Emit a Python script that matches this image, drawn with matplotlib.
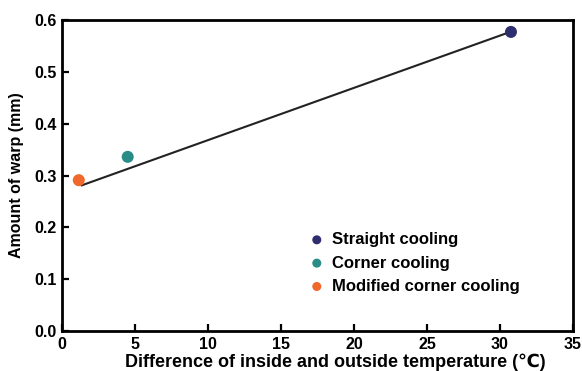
import matplotlib
matplotlib.use("Agg")
import matplotlib.pyplot as plt

plt.rcParams['font.family'] = ['Liberation Sans', 'DejaVu Sans']
plt.rcParams['font.weight'] = 'bold'

# DATA
labels = ['Straight cooling', 'Corner cooling', 'Modified corner cooling']
temp_diff = [30.75, 4.5, 1.15]
warp = [0.577, 0.336, 0.291]
colors = ['#2e2d6e', '#2a8c87', '#f0682c']
fit_x = [1.35, 30.6]
fit_y = [0.281, 0.576]

fig = plt.figure(figsize=(5.82, 3.71), dpi=100)
ax = fig.add_axes([62/582, 40/371, 511/582, 311/371])

ax.plot(fit_x, fit_y, color='#222222', lw=1.5, zorder=2)
for x, y, c, lab in zip(temp_diff, warp, colors, labels):
    ax.scatter([x], [y], s=75, color=c, zorder=3, label=lab, edgecolors='none')

ax.set_xlim(0, 35)
ax.set_ylim(0, 0.6)
ax.set_xticks(range(0, 36, 5))
ax.set_yticks([0.0, 0.1, 0.2, 0.3, 0.4, 0.5, 0.6])
ax.set_yticklabels(['0.0', '0.1', '0.2', '0.3', '0.4', '0.5', '0.6'])
ax.tick_params(direction='in', length=5, width=1.6, labelsize=11.5)
ax.tick_params(axis='x', pad=4)
ax.tick_params(axis='y', pad=4)
for sp in ax.spines.values():
    sp.set_linewidth(2)

ax.set_xlabel('Difference of inside and outside temperature (\u2103)', fontsize=13, fontweight='bold')
ax.xaxis.set_label_coords(0.534, -0.074)
ax.set_ylabel('Amount of warp (mm)', fontsize=11.5, fontweight='bold', labelpad=7)

leg = ax.legend(loc='center left', bbox_to_anchor=(0.466, 0.2186), frameon=False,
                fontsize=12, handletextpad=0.3, labelspacing=0.5, markerscale=0.75,
                handlelength=1.2, borderaxespad=0)

fig.savefig('out.png', dpi=100)
